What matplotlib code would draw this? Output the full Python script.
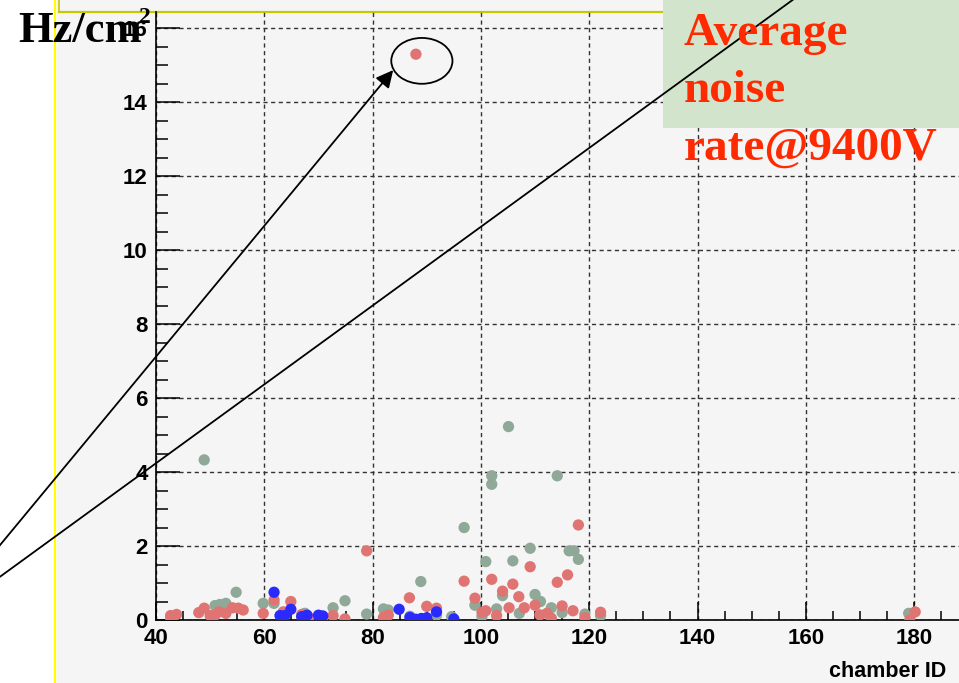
import numpy as np
import matplotlib.pyplot as plt
from matplotlib.patches import Rectangle, Ellipse
from matplotlib.lines import Line2D
from matplotlib.ticker import MultipleLocator

# Noise rate per chamber, three groups
red_x = [42.7, 43.8, 47.9, 48.9, 50.0, 50.9, 51.6, 52.9, 54.1, 55.2, 56.1, 59.8, 61.8,
         63.5, 64.9, 66.9, 68.2, 72.7, 74.9, 78.9, 82.0, 82.9, 86.8, 88.0, 90.0, 91.8,
         96.9, 98.9, 100.2, 100.9, 102.0, 102.9, 104.0, 105.2, 105.9, 107.0, 108.0,
         109.1, 110.0, 110.9, 112.2, 113.0, 114.1, 115.0, 116.0, 117.0, 118.0, 119.2,
         122.1, 179.2, 180.2]
red_y = [0.12, 0.15, 0.20, 0.32, 0.12, 0.13, 0.22, 0.18, 0.33, 0.32, 0.27, 0.18, 0.54,
         0.22, 0.50, 0.15, 0.07, 0.12, 0.03, 1.87, 0.07, 0.13, 0.60, 15.3, 0.37, 0.32,
         1.05, 0.59, 0.21, 0.25, 1.10, 0.12, 0.78, 0.33, 0.97, 0.63, 0.33,
         1.44, 0.40, 0.14, 0.18, 0.05, 1.02, 0.38, 1.22, 0.25, 2.57, 0.06,
         0.21, 0.00, 0.22]

grey_x = [42.7, 48.9, 50.9, 51.8, 52.9, 54.8, 59.8, 61.8, 67.5, 70.8, 72.7, 74.9, 78.9,
          82.0, 82.9, 86.9, 88.9, 91.8, 94.6, 96.9, 98.9, 100.2, 100.9, 102.0, 102.0,
          102.9, 104.0, 105.1, 105.9, 107.1, 109.1, 110.0, 111.0, 113.0, 114.1, 115.0,
          116.3, 117.2, 118.0, 119.2, 122.1, 179.0]
grey_y = [0.05, 4.33, 0.39, 0.42, 0.45, 0.75, 0.45, 0.45, 0.18, 0.07, 0.33, 0.52, 0.16,
          0.30, 0.27, 0.10, 1.04, 0.13, 0.09, 2.50, 0.40, 0.10, 1.58, 3.90, 3.67,
          0.30, 0.66, 5.23, 1.60, 0.18, 1.94, 0.69, 0.50, 0.33, 3.90, 0.20,
          1.87, 1.87, 1.64, 0.16, 0.12, 0.18]

blue_x = [61.8, 62.9, 63.8, 64.9, 66.9, 67.9, 70.0, 70.8, 84.9, 86.9, 88.0, 89.0, 90.0,
          91.8, 95.0]
blue_y = [0.75, 0.12, 0.12, 0.29, 0.09, 0.13, 0.13, 0.11, 0.29, 0.07, 0.02, 0.04, 0.06,
          0.22, 0.03]

x_ticks = [40, 60, 80, 100, 120, 140, 160, 180]
y_ticks = [0, 2, 4, 6, 8, 10, 12, 14, 16]

W, H = 959, 683
fig = plt.figure(figsize=(W / 100, H / 100), dpi=100)
fig.patch.set_facecolor('white')

# pad background and frame lines
fig.add_artist(Rectangle((57 / W, 0), 1 - 57 / W, 1, transform=fig.transFigure,
                         facecolor='#f5f5f5', edgecolor='none', zorder=-2))
fig.add_artist(Line2D([55 / W, 55 / W], [0, 1], transform=fig.transFigure,
                      color='#ffff00', lw=1.6, zorder=-1))
fig.add_artist(Line2D([59 / W, 1], [1 - 12.3 / H, 1 - 12.3 / H], transform=fig.transFigure,
                      color='#c8c800', lw=1.6, zorder=-1))
fig.add_artist(Line2D([59 / W, 59 / W], [1 - 12.3 / H, 1], transform=fig.transFigure,
                      color='#c8c800', lw=1.2, zorder=-1))

ax = fig.add_axes([156 / W, 63 / H, (W - 156) / W, (620 - 12.3) / H])
ax.set_facecolor('none')
ax.set_xlim(40, 40 + (W - 156) / 5.415)
ax.set_ylim(0, (620 - 12.3) / 36.98)

ax.scatter(grey_x, grey_y, s=66, color='#8fa898', edgecolors='none', zorder=3)
ax.scatter(red_x, red_y, s=66, color='#e07472', edgecolors='none', zorder=4)
ax.scatter(blue_x, blue_y, s=66, color='#2a2aff', edgecolors='none', zorder=5)

ax.set_xticks(x_ticks)
ax.set_yticks(y_ticks)
ax.xaxis.set_minor_locator(MultipleLocator(5))
ax.yaxis.set_minor_locator(MultipleLocator(0.5))
ax.grid(True, which='major', color='#333333', lw=1.0, linestyle=(0, (3, 2.5)))
for s in ['top', 'right']:
    ax.spines[s].set_visible(False)
for s in ['left', 'bottom']:
    ax.spines[s].set_linewidth(1.2)

tick_font = dict(family='Liberation Sans', weight='bold', size=16)
ax.tick_params(axis='y', which='major', direction='in', length=17, width=1.1, pad=6)
ax.tick_params(axis='y', which='minor', direction='in', length=8.6, width=1.1)
ax.tick_params(axis='x', which='major', direction='in', length=13, width=1.1, pad=6)
ax.tick_params(axis='x', which='minor', direction='in', length=6.5, width=1.1)
for lab in ax.get_xticklabels() + ax.get_yticklabels():
    lab.set_fontproperties(tick_font)

fig.text(946 / W, 6 / H, 'chamber ID', ha='right', va='baseline',
         family='Liberation Sans', weight='bold', size=15.5)

# units label
fig.text(18 / W, 1 - 41.7 / H, 'Hz/cm', ha='left', va='baseline',
         family='Liberation Serif', weight='bold', size=32, zorder=3)
fig.text(139 / W, 1 - 23 / H, '2', ha='left', va='baseline',
         family='Liberation Serif', weight='bold', size=17, zorder=3)

# title box
fig.add_artist(Rectangle((663 / W, 1 - 127.7 / H), 1 - 663 / W, 127.7 / H,
                         transform=fig.transFigure, facecolor='#d2e4cb',
                         edgecolor='none', zorder=1))
for txt, base in [('Average', 45), ('noise', 101.7), ('rate@9400V', 160)]:
    fig.text(684 / W, 1 - base / H, txt, ha='left', va='baseline', color='#ff2a00',
             family='Liberation Serif', weight='bold', size=34, zorder=4)

# outlier marker: ellipse and arrow
ax.add_patch(Ellipse((89.1, 15.12), 11.3, 1.24, facecolor='none', edgecolor='black',
                     lw=1.3, zorder=6, clip_on=False))
ax.annotate('', xy=(83.8, 14.87), xytext=(5, 0.93), annotation_clip=False,
            arrowprops=dict(arrowstyle='-|>', color='black', lw=1.3,
                            mutation_scale=26, shrinkA=0, shrinkB=0), zorder=6)
fig.add_artist(Line2D([5, 162], [0.51, 17.24], transform=ax.transData,
                      color='black', lw=1.3, zorder=2))

fig.savefig('out.png', dpi=100)
